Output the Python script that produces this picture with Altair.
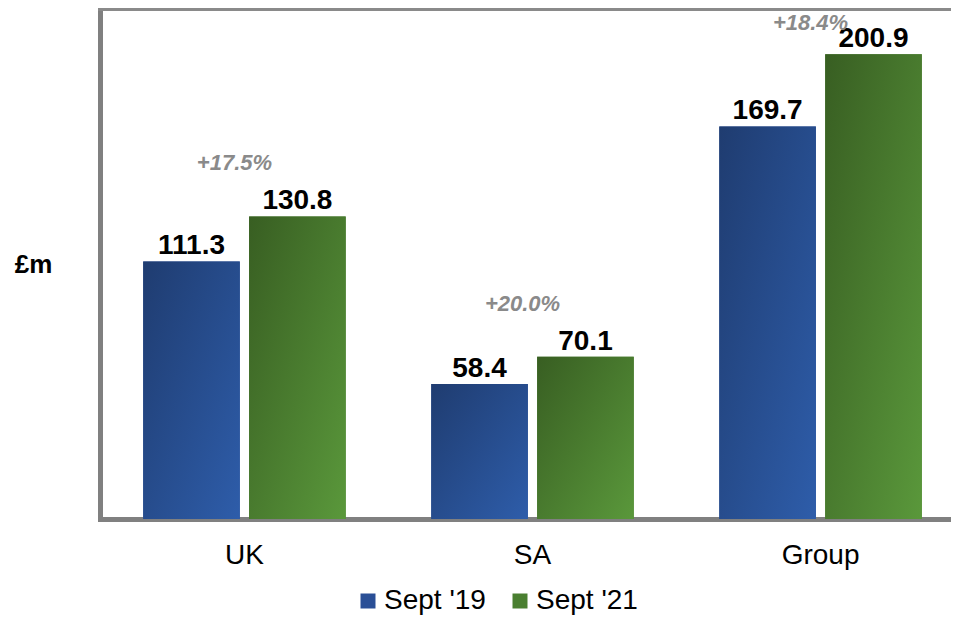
import altair as alt
import pandas as pd

categories = ["UK", "SA", "Group"]
series_names = ["Sept '19", "Sept '21"]
sept19 = [111.3, 58.4, 169.7]
sept21 = [130.8, 70.1, 200.9]
growth = ["+17.5%", "+20.0%", "+18.4%"]

FONT = "Liberation Sans, Arial, Helvetica, sans-serif"

rows = []
for c, a, b in zip(categories, sept19, sept21):
    rows.append({"cat": c, "series": series_names[0], "value": a})
    rows.append({"cat": c, "series": series_names[1], "value": b})
long_df = pd.DataFrame(rows)
wide_df = pd.DataFrame({"cat": categories, "v19": sept19, "v21": sept21, "growth": growth})

grad_blue = {
    "gradient": "linear", "x1": 0, "y1": 0, "x2": 1, "y2": 1,
    "stops": [{"offset": 0, "color": "#1f3c70"}, {"offset": 1, "color": "#2e5daa"}],
}
grad_green = {
    "gradient": "linear", "x1": 0, "y1": 0, "x2": 1, "y2": 1,
    "stops": [{"offset": 0, "color": "#385e22"}, {"offset": 1, "color": "#5a983b"}],
}

x_enc = alt.X(
    "cat:N",
    sort=categories,
    scale=alt.Scale(range=[0, 865], paddingInner=0.297, paddingOuter=0.15),
    axis=alt.Axis(
        title=None, ticks=False, tickSize=0, labelAngle=0, labelFontSize=28,
        labelFont=FONT, labelColor="#000000", labelBaseline="alphabetic",
        labelPadding=44, domain=True, domainColor="#808080", domainWidth=5,
        domainCap="square", grid=False,
    ),
)
xoff_enc = alt.XOffset(
    "series:N", sort=series_names,
    scale=alt.Scale(domain=series_names, paddingInner=0.088, paddingOuter=0),
)
y_enc = alt.Y(
    "value:Q",
    scale=alt.Scale(domain=[0, 220], nice=False, zero=True),
    axis=alt.Axis(
        title="£m", titleAngle=0, titleFontSize=26, titleFontWeight="bold",
        titleFont=FONT, titleColor="#000000", titleX=-67, titleY=254,
        titleAlign="center", titleBaseline="middle",
        labels=False, ticks=False, grid=False, domain=True,
        domainColor="#808080", domainWidth=5, domainCap="square",
    ),
)

base_bars = alt.Chart(long_df).mark_bar().encode(
    x=x_enc,
    xOffset=xoff_enc,
    y=y_enc,
    color=alt.Color(
        "series:N",
        sort=series_names,
        scale=alt.Scale(domain=series_names, range=["#2a4f96", "#4a7f30"]),
        legend=alt.Legend(
            title=None, orient="none", direction="horizontal",
            legendX=254, legendY=577, labelFontSize=28, labelFont=FONT,
            labelColor="#000000", symbolType="square", symbolSize=225,
            symbolStrokeWidth=0, labelOffset=2, columnPadding=20,
            padding=0, labelLimit=300,
        ),
    ),
)

grad_bars = alt.Chart(long_df).mark_bar().encode(
    x=x_enc,
    xOffset=xoff_enc,
    y=y_enc,
    fill=alt.condition(
        alt.datum.series == series_names[0], alt.value(grad_blue), alt.value(grad_green)
    ),
)

value_labels = alt.Chart(long_df).mark_text(
    fontSize=28, fontWeight="bold", font=FONT, color="#000000",
    baseline="alphabetic", align="center", dy=-7,
).encode(
    x=x_enc,
    xOffset=xoff_enc,
    y=y_enc,
    text=alt.Text("value:Q", format=".1f"),
)

pct_labels = alt.Chart(wide_df).transform_calculate(
    ly="min(datum.v21 + 20, 211.4)"
).mark_text(
    fontSize=22, fontWeight="bold", fontStyle="italic", font=FONT,
    color="#8a8a8a", baseline="alphabetic", align="center", dx=-10,
).encode(
    x=x_enc,
    y=alt.Y("ly:Q", scale=alt.Scale(domain=[0, 220], nice=False)),
    text="growth:N",
)

top_bar = alt.Chart(wide_df).mark_rule(color="#8a8a8a", strokeWidth=5).encode(
    x=alt.value(-2), x2=alt.value(865), y=alt.value(-1.5)
)

chart = alt.layer(base_bars, grad_bars, value_labels, pct_labels, top_bar).properties(
    width=851,
    height=509,
    autosize=alt.AutoSizeParams(type="none"),
    padding={"left": 92, "top": 2, "right": 0, "bottom": 97},
).configure(font=FONT).configure_view(stroke="transparent", strokeWidth=0)

chart.save("out.html", embed_options={"renderer": "svg", "actions": False})
